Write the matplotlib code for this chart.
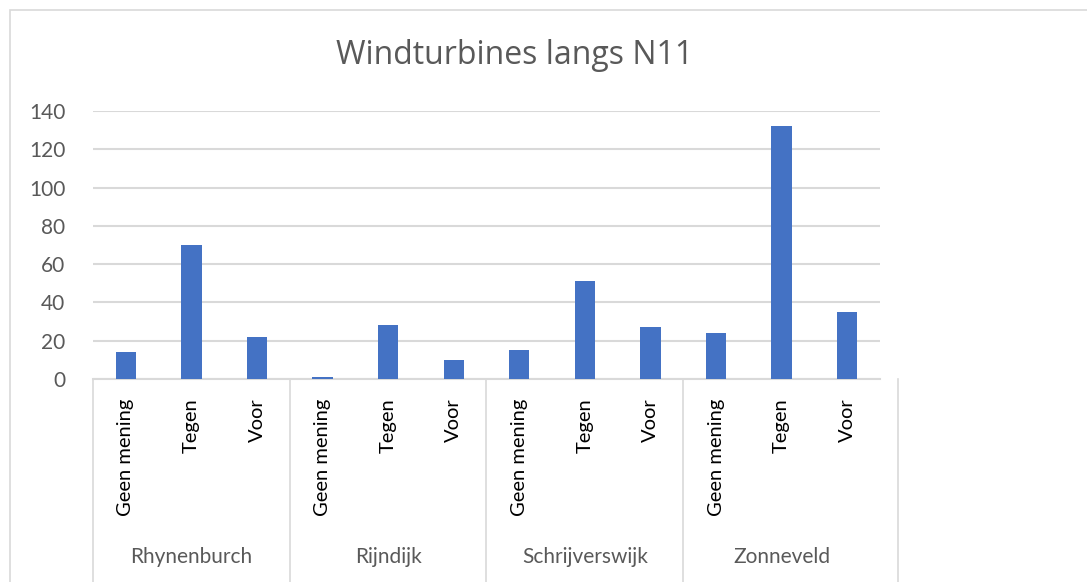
import numpy as np
import matplotlib
matplotlib.use("Agg")
import matplotlib.pyplot as plt
import matplotlib.transforms as mtransforms
from matplotlib.patches import Rectangle

# data
wijken = ['Rhynenburch', 'Rijndijk', 'Schrijverswijk', 'Zonneveld']
meningen = ['Geen mening', 'Tegen', 'Voor']
geen_mening = [14, 1, 15, 24]
tegen = [70, 28, 51, 132]
voor = [22, 10, 27, 35]
y_ticks = [0, 20, 40, 60, 80, 100, 120, 140]

plt.rcParams['font.family'] = ['Lato', 'DejaVu Sans']

W, H = 1087, 582
fig = plt.figure(figsize=(W / 100, H / 100), dpi=100)
fig.patch.set_facecolor('white')

# outer chart border
fig.patches.append(Rectangle((10 / W, -0.1), 1.2, (H - 10) / H + 0.1,
                             transform=fig.transFigure, fill=False,
                             edgecolor='#d9d9d9', linewidth=1.2))

ax = fig.add_axes([93 / W, (H - 379) / H, 787 / W, 268 / H])

values = []
labels = []
for i in range(len(wijken)):
    values += [geen_mening[i], tegen[i], voor[i]]
    labels += meningen
x = np.arange(len(values))

ax.bar(x, values, width=0.31, color='#4472C4', zorder=3)

ax.set_xlim(-0.5, len(values) - 0.5)
ax.set_ylim(0, 140)
ax.set_yticks(y_ticks)
ax.set_yticklabels([str(v) for v in y_ticks], color='#595959', fontsize=15)
ax.tick_params(axis='y', length=0, pad=20)
ax.yaxis.grid(True, color='#d9d9d9', linewidth=1.5, zorder=0)

ax.set_xticks(x)
ax.set_xticklabels(labels, rotation=90, fontsize=14.5, color='black', va='top')
ax.tick_params(axis='x', length=0, pad=14)

for side in ['left', 'right', 'top']:
    ax.spines[side].set_visible(False)
ax.spines['bottom'].set_color('#d9d9d9')
ax.spines['bottom'].set_linewidth(1.5)

# group separators and group labels below the axis
trans = mtransforms.blended_transform_factory(ax.transData, ax.transAxes)
seps = [-0.5, 2.5, 5.5, 8.5, 11.78]
for s in seps:
    ax.plot([s, s], [0, -0.8], transform=trans, color='#d9d9d9',
            linewidth=1.2, clip_on=False)
for i, w in enumerate(wijken):
    ax.text(i * 3 + 1, -0.664, w, transform=trans, ha='center', va='center',
            fontsize=15, color='#595959')

fig.text(515 / W, 1 - 55 / H, 'Windturbines langs N11', ha='center',
         va='center', fontsize=23, color='#595959', family='Open Sans',
         weight='medium')

fig.savefig('out.png', dpi=100)
